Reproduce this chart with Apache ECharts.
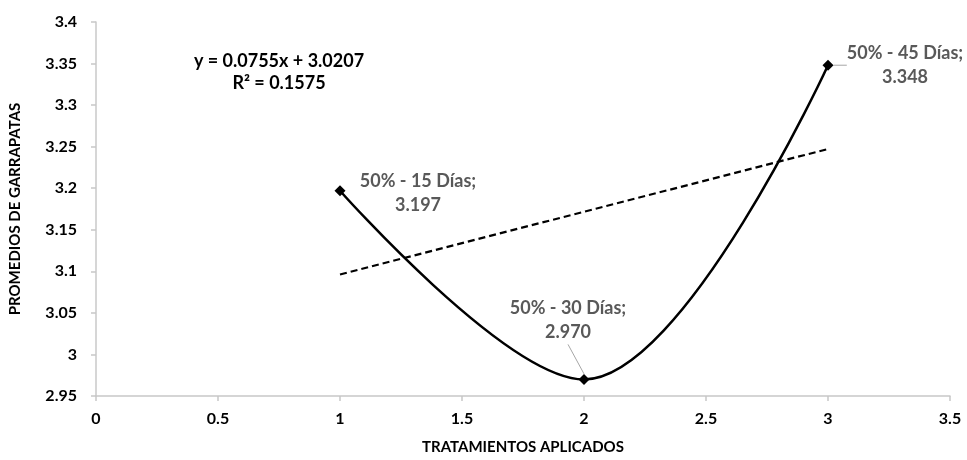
<!DOCTYPE html>
<html>
<head>
<meta charset="utf-8">
<script src="https://cdn.jsdelivr.net/npm/echarts@6/dist/echarts.min.js"></script>
<style>
  html, body { margin: 0; padding: 0; background: #fff; }
  #chart { width: 967px; height: 460px; }
</style>
</head>
<body>
<div id="chart"></div>
<script>
// datos
var tratamientos = [1, 2, 3]
var promedios = [3.197, 2.970, 3.348]
var etiquetas = ['50% - 15 Días', '50% - 30 Días', '50% - 45 Días']
var tendencia = [[1, 3.0962], [3, 3.2472]]
var ecuacion = ['y = 0.0755x + 3.0207', 'R² = 0.1575']

var font = 'Lato, "Open Sans", sans-serif'
var labelOffsets = [[78, 2], [-16, -59], [77, 0]]
var conGuia = [false, true, true]

var chart = echarts.init(document.getElementById('chart'))

var puntos = tratamientos.map(function (x, i) {
  return { value: [x, promedios[i]], labelLine: { show: conGuia[i] } }
})

chart.setOption({
  animation: false,
  grid: { left: 93, right: 17, top: 22, bottom: 60 },
  xAxis: {
    type: 'value',
    min: 0,
    max: 3.5,
    interval: 0.5,
    name: 'TRATAMIENTOS APLICADOS',
    nameLocation: 'middle',
    nameGap: 44,
    nameTextStyle: { fontFamily: font, fontWeight: 'bold', fontSize: 15, color: '#000' },
    splitLine: { show: false },
    axisLine: { lineStyle: { color: '#c8c8c8', width: 1.5 } },
    axisTick: { show: true, length: 5, lineStyle: { color: '#c8c8c8', width: 1.5 } },
    axisLabel: { fontFamily: font, fontWeight: 'bold', fontSize: 16, color: '#000', margin: 15 }
  },
  yAxis: {
    type: 'value',
    min: 2.95,
    max: 3.4,
    interval: 0.05,
    name: 'PROMEDIOS DE GARRAPATAS',
    nameLocation: 'middle',
    nameGap: 73,
    nameTextStyle: { fontFamily: font, fontWeight: 'bold', fontSize: 15, color: '#000' },
    splitLine: { show: false },
    axisLine: { show: true, lineStyle: { color: '#c8c8c8', width: 1.5 } },
    axisTick: { show: true, length: 5, lineStyle: { color: '#c8c8c8', width: 1.5 } },
    axisLabel: { fontFamily: font, fontWeight: 'bold', fontSize: 16, color: '#000', margin: 19 }
  },
  series: [
    {
      type: 'line',
      data: tendencia,
      symbol: 'none',
      silent: true,
      lineStyle: { color: '#000', width: 2.2, type: [7, 4] },
      z: 1
    },
    {
      type: 'line',
      data: puntos,
      smooth: 0.36,
      symbol: 'diamond',
      symbolSize: 11,
      itemStyle: { color: '#000' },
      lineStyle: { color: '#000', width: 2.5 },
      label: {
        show: true,
        position: 'inside',
        align: 'center',
        verticalAlign: 'middle',
        lineHeight: 24,
        fontFamily: font,
        fontWeight: 'bold',
        fontSize: 18,
        color: '#595959',
        formatter: function (p) {
          return etiquetas[p.dataIndex] + ';\n' + promedios[p.dataIndex].toFixed(3)
        }
      },
      labelLine: { show: true, lineStyle: { color: '#a6a6a6', width: 1 } },
      labelLayout: function (p) {
        var o = labelOffsets[p.dataIndex]
        return { dx: o[0], dy: o[1] }
      },
      z: 2
    }
  ],
  graphic: [
    {
      type: 'text',
      x: 279,
      y: 72,
      style: {
        text: ecuacion.join('\n'),
        align: 'center',
        verticalAlign: 'middle',
        lineHeight: 22,
        font: 'bold 18px ' + font,
        fill: '#000'
      }
    }
  ]
})
</script>
</body>
</html>
